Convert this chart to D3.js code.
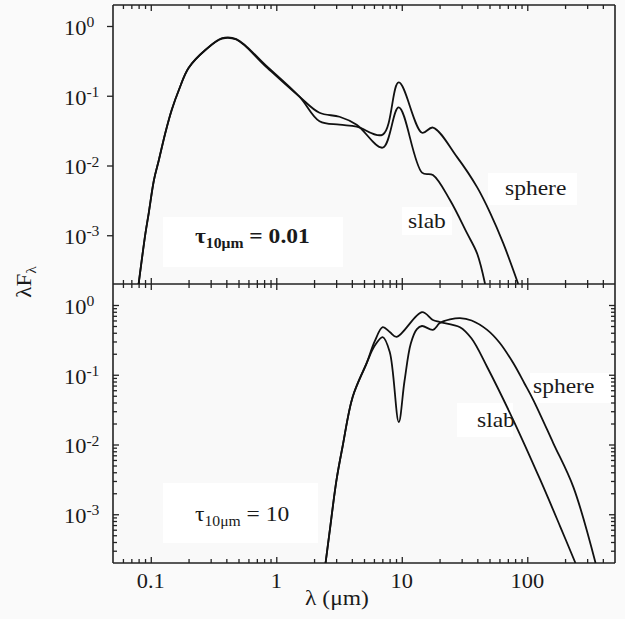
<!DOCTYPE html>
<html>
<head>
<meta charset="utf-8">
<script src="https://cdn.jsdelivr.net/npm/d3@7"></script>
<style>
  body { margin: 0; background: #fafafa; }
  svg { display: block; }
</style>
</head>
<body>
<div id="chart"></div>
<script>
const svgWidth = 625
const svgHeight = 619

// frame of the two stacked panels (shared x axis)
const frame = { left: 113, right: 615, top: 5, mid: 284, bottom: 563 }

// ---- data ----
// tau_10um = 0.01 (top panel)
const topSlabLam = [0.080, 0.0907, 0.0964, 0.106, 0.116, 0.131, 0.147, 0.168, 0.20, 0.275, 0.37, 0.48, 0.83, 1.53, 2.21, 3.19, 4.37, 7.05, 9.46, 14.5, 17.7, 24.2, 33.1, 39.8, 46.1]
const topSlabF = [2e-4, 1.07e-3, 2.1e-3, 6.2e-3, 0.012, 0.030, 0.063, 0.123, 0.25, 0.46, 0.66, 0.64, 0.26, 0.097, 0.057, 0.050, 0.0385, 0.018, 0.068, 0.0079, 0.0073, 0.0032, 0.00107, 5.5e-4, 2e-4]
const topSphereLam = [0.080, 0.0907, 0.0964, 0.106, 0.116, 0.131, 0.147, 0.168, 0.20, 0.275, 0.37, 0.48, 0.83, 1.53, 2.21, 3.19, 4.37, 7.05, 9.46, 14.5, 17.7, 27.5, 39.8, 50.6, 64.3, 84.7]
const topSphereF = [2e-4, 1.07e-3, 2.1e-3, 6.2e-3, 0.012, 0.030, 0.063, 0.123, 0.25, 0.46, 0.67, 0.65, 0.27, 0.097, 0.043, 0.0385, 0.036, 0.0277, 0.155, 0.0295, 0.035, 0.0133, 0.0049, 0.0021, 7.7e-4, 2e-4]

// tau_10um = 10 (bottom panel)
const botSlabLam = [2.47, 2.65, 3.02, 3.37, 4.06, 5.25, 6.08, 7.05, 8.02, 9.12, 14.5, 17.7, 20.1, 29.1, 36, 47.9, 77.3, 127, 184, 242]
const botSlabF = [2e-4, 5.3e-4, 3.1e-3, 9.2e-3, 0.048, 0.147, 0.30, 0.48, 0.41, 0.35, 0.79, 0.61, 0.57, 0.48, 0.33, 0.129, 0.0224, 3.1e-3, 6.5e-4, 2e-4]
const botSphereLam = [2.47, 2.65, 3.02, 3.37, 4.06, 5.25, 6.08, 7.05, 8.02, 9.46, 10.5, 11.8, 13.2, 14.5, 17.7, 20.1, 24.2, 29.1, 36, 47.9, 60, 77.3, 95, 112, 161, 233, 350]
const botSphereF = [2e-4, 5.3e-4, 3.1e-3, 9.2e-3, 0.048, 0.147, 0.26, 0.347, 0.212, 0.021, 0.08, 0.28, 0.45, 0.50, 0.44, 0.55, 0.62, 0.65, 0.60, 0.44, 0.29, 0.147, 0.075, 0.043, 0.0105, 2.45e-3, 2e-4]

const xTickValues = [0.1, 1, 10, 100]
const xTickLabels = ["0.1", "1", "10", "100"]
const yTickExponents = [0, -1, -2, -3]

const serif = "'Liberation Serif', 'Times New Roman', Times, Tinos, 'Nimbus Roman', 'DejaVu Serif', serif"
const textScale = 1.12

let svg = d3
  .select("#chart")
  .append("svg")
  .attr("width", svgWidth)
  .attr("height", svgHeight)
  .style("font-family", serif)

let x = d3.scaleLog().domain([0.05, 500]).range([frame.left, frame.right])
let yTop = d3.scaleLog().domain([2e-4, 2]).range([frame.mid, frame.top])
let yBot = d3.scaleLog().domain([2e-4, 2]).range([frame.bottom, frame.mid])

function minorTicks(domain) {
  let out = []
  for (let e = -5; e <= 3; e++) {
    for (let k = 2; k <= 9; k++) {
      let v = k * Math.pow(10, e)
      if (v > domain[0] * 1.001 && v < domain[1] * 0.999) out.push(v)
    }
  }
  return out
}

// plot background
svg.append("rect")
  .attr("x", frame.left).attr("y", frame.top)
  .attr("width", frame.right - frame.left).attr("height", frame.bottom - frame.top)
  .attr("fill", "#f9f9f9")

// white patches behind the labels (as in the scanned figure)
const patches = [
  [163, 217, 180, 50], [402, 207, 50, 28], [488, 173, 89, 32],
  [163, 483, 155, 60], [457, 403, 56, 34], [530, 373, 85, 30]
]
svg.append("g").selectAll("rect")
  .data(patches)
  .enter()
  .append("rect")
  .attr("x", d => d[0]).attr("y", d => d[1])
  .attr("width", d => d[2]).attr("height", d => d[3])
  .attr("fill", "#ffffff")

/**
 * Draws ticks only (no domain line, no labels) for one axis.
 **/
function ticks(axisFn, scale, values, size, transform) {
  let g = svg.append("g")
    .attr("transform", transform)
    .call(axisFn(scale).tickValues(values).tickSize(size).tickSizeOuter(0).tickFormat(""))
  g.select(".domain").remove()
  g.selectAll("line").attr("stroke", "#222").attr("stroke-width", 1.3)
  return g
}

const xMinor = minorTicks(x.domain())
const yMinor = minorTicks(yBot.domain())

// top edge of top panel: inward
ticks(d3.axisTop, x, xTickValues, -6, `translate(0,${frame.top})`)
ticks(d3.axisTop, x, xMinor, -4, `translate(0,${frame.top})`)
// divider: ticks into both panels
ticks(d3.axisBottom, x, xTickValues, -6, `translate(0,${frame.mid})`)
ticks(d3.axisBottom, x, xMinor, -4, `translate(0,${frame.mid})`)
ticks(d3.axisTop, x, xTickValues, -6, `translate(0,${frame.mid})`)
ticks(d3.axisTop, x, xMinor, -4, `translate(0,${frame.mid})`)
// bottom edge: inward
ticks(d3.axisBottom, x, xTickValues, -6, `translate(0,${frame.bottom})`)
ticks(d3.axisBottom, x, xMinor, -4, `translate(0,${frame.bottom})`)

const yMajor = yTickExponents.map(e => Math.pow(10, e))
// top panel: major ticks outward on the left only
ticks(d3.axisLeft, yTop, yMajor, 6, `translate(${frame.left},0)`)
// bottom panel: inward ticks on both sides
ticks(d3.axisLeft, yBot, yMajor, -6, `translate(${frame.left},0)`)
ticks(d3.axisLeft, yBot, yMinor, -4, `translate(${frame.left},0)`)
ticks(d3.axisRight, yBot, yMajor, -6, `translate(${frame.right},0)`)
ticks(d3.axisRight, yBot, yMinor, -4, `translate(${frame.right},0)`)

// frame lines
const frameLines = [
  [frame.left, frame.top, frame.right, frame.top],
  [frame.left, frame.mid, frame.right, frame.mid],
  [frame.left, frame.bottom, frame.right, frame.bottom],
  [frame.left, frame.top, frame.left, frame.bottom],
  [frame.right, frame.top, frame.right, frame.bottom]
]
svg.append("g").selectAll("line")
  .data(frameLines)
  .enter()
  .append("line")
  .attr("x1", d => d[0]).attr("y1", d => d[1])
  .attr("x2", d => d[2]).attr("y2", d => d[3])
  .attr("stroke", "#222")
  .attr("stroke-width", 1.6)

// clip paths for each panel
let defs = svg.append("defs")
defs.append("clipPath").attr("id", "clipTop").append("rect")
  .attr("x", frame.left).attr("y", frame.top)
  .attr("width", frame.right - frame.left).attr("height", frame.mid - frame.top)
defs.append("clipPath").attr("id", "clipBot").append("rect")
  .attr("x", frame.left).attr("y", frame.mid)
  .attr("width", frame.right - frame.left).attr("height", frame.bottom - frame.mid)

function drawCurve(lams, fs, yScale, clip) {
  let pts = lams.map((l, i) => [l, fs[i]])
  let line = d3.line()
    .x(d => x(d[0]))
    .y(d => yScale(d[1]))
    .curve(d3.curveCatmullRom.alpha(0.5))
  svg.append("path")
    .datum(pts)
    .attr("clip-path", `url(#${clip})`)
    .attr("fill", "none")
    .attr("stroke", "#111")
    .attr("stroke-width", 1.8)
    .attr("stroke-linejoin", "round")
    .attr("d", line)
}

drawCurve(topSlabLam, topSlabF, yTop, "clipTop")
drawCurve(topSphereLam, topSphereF, yTop, "clipTop")
drawCurve(botSlabLam, botSlabF, yBot, "clipBot")
drawCurve(botSphereLam, botSphereF, yBot, "clipBot")

/**
 * Appends a text node, slightly stretched horizontally like the scanned figure.
 **/
function label(px, py, anchor, size) {
  return svg.append("text")
    .attr("transform", `translate(${px},${py}) scale(${textScale},1)`)
    .attr("text-anchor", anchor)
    .style("font-family", serif)
    .attr("fill", "#1a1a1a")
    .style("font-size", size + "px")
}

// x tick labels
xTickValues.forEach((v, i) => {
  label(x(v), 588, "middle", 20).text(xTickLabels[i])
})

// y tick labels (powers of ten) for both panels
;[yTop, yBot].forEach(ys => {
  yTickExponents.forEach(e => {
    let t = label(64, ys(Math.pow(10, e)) + 9, "start", 20)
    t.append("tspan").text("10")
    t.append("tspan").attr("dy", -8).style("font-size", "14px").text(e === 0 ? "0" : "-" + Math.abs(e))
  })
})

// axis titles
label(337, 605, "middle", 21).text("λ (μm)")

let yTitle = svg.append("text")
  .attr("transform", "translate(31,282) rotate(-90) scale(1.1,1)")
  .attr("text-anchor", "middle")
  .style("font-family", serif)
  .attr("fill", "#1a1a1a")
  .style("font-size", "21px")
yTitle.append("tspan").text("λF")
yTitle.append("tspan").attr("dy", 5).style("font-size", "14px").text("λ")

// panel annotations
function tauLabel(px, py, value, weight) {
  let t = label(px, py, "start", 21).style("font-weight", weight)
  t.append("tspan").text("τ")
  t.append("tspan").attr("dy", 5).style("font-size", "14px").text("10μm")
  t.append("tspan").attr("dy", -5).text(" = " + value)
}
tauLabel(195, 243, "0.01", "bold")
tauLabel(195, 521, "10", "normal")

label(505, 195, "start", 21).text("sphere")
label(408, 228, "start", 21).text("slab")
label(533, 393, "start", 21).text("sphere")
label(477, 427, "start", 21).text("slab")
</script>
</body>
</html>
